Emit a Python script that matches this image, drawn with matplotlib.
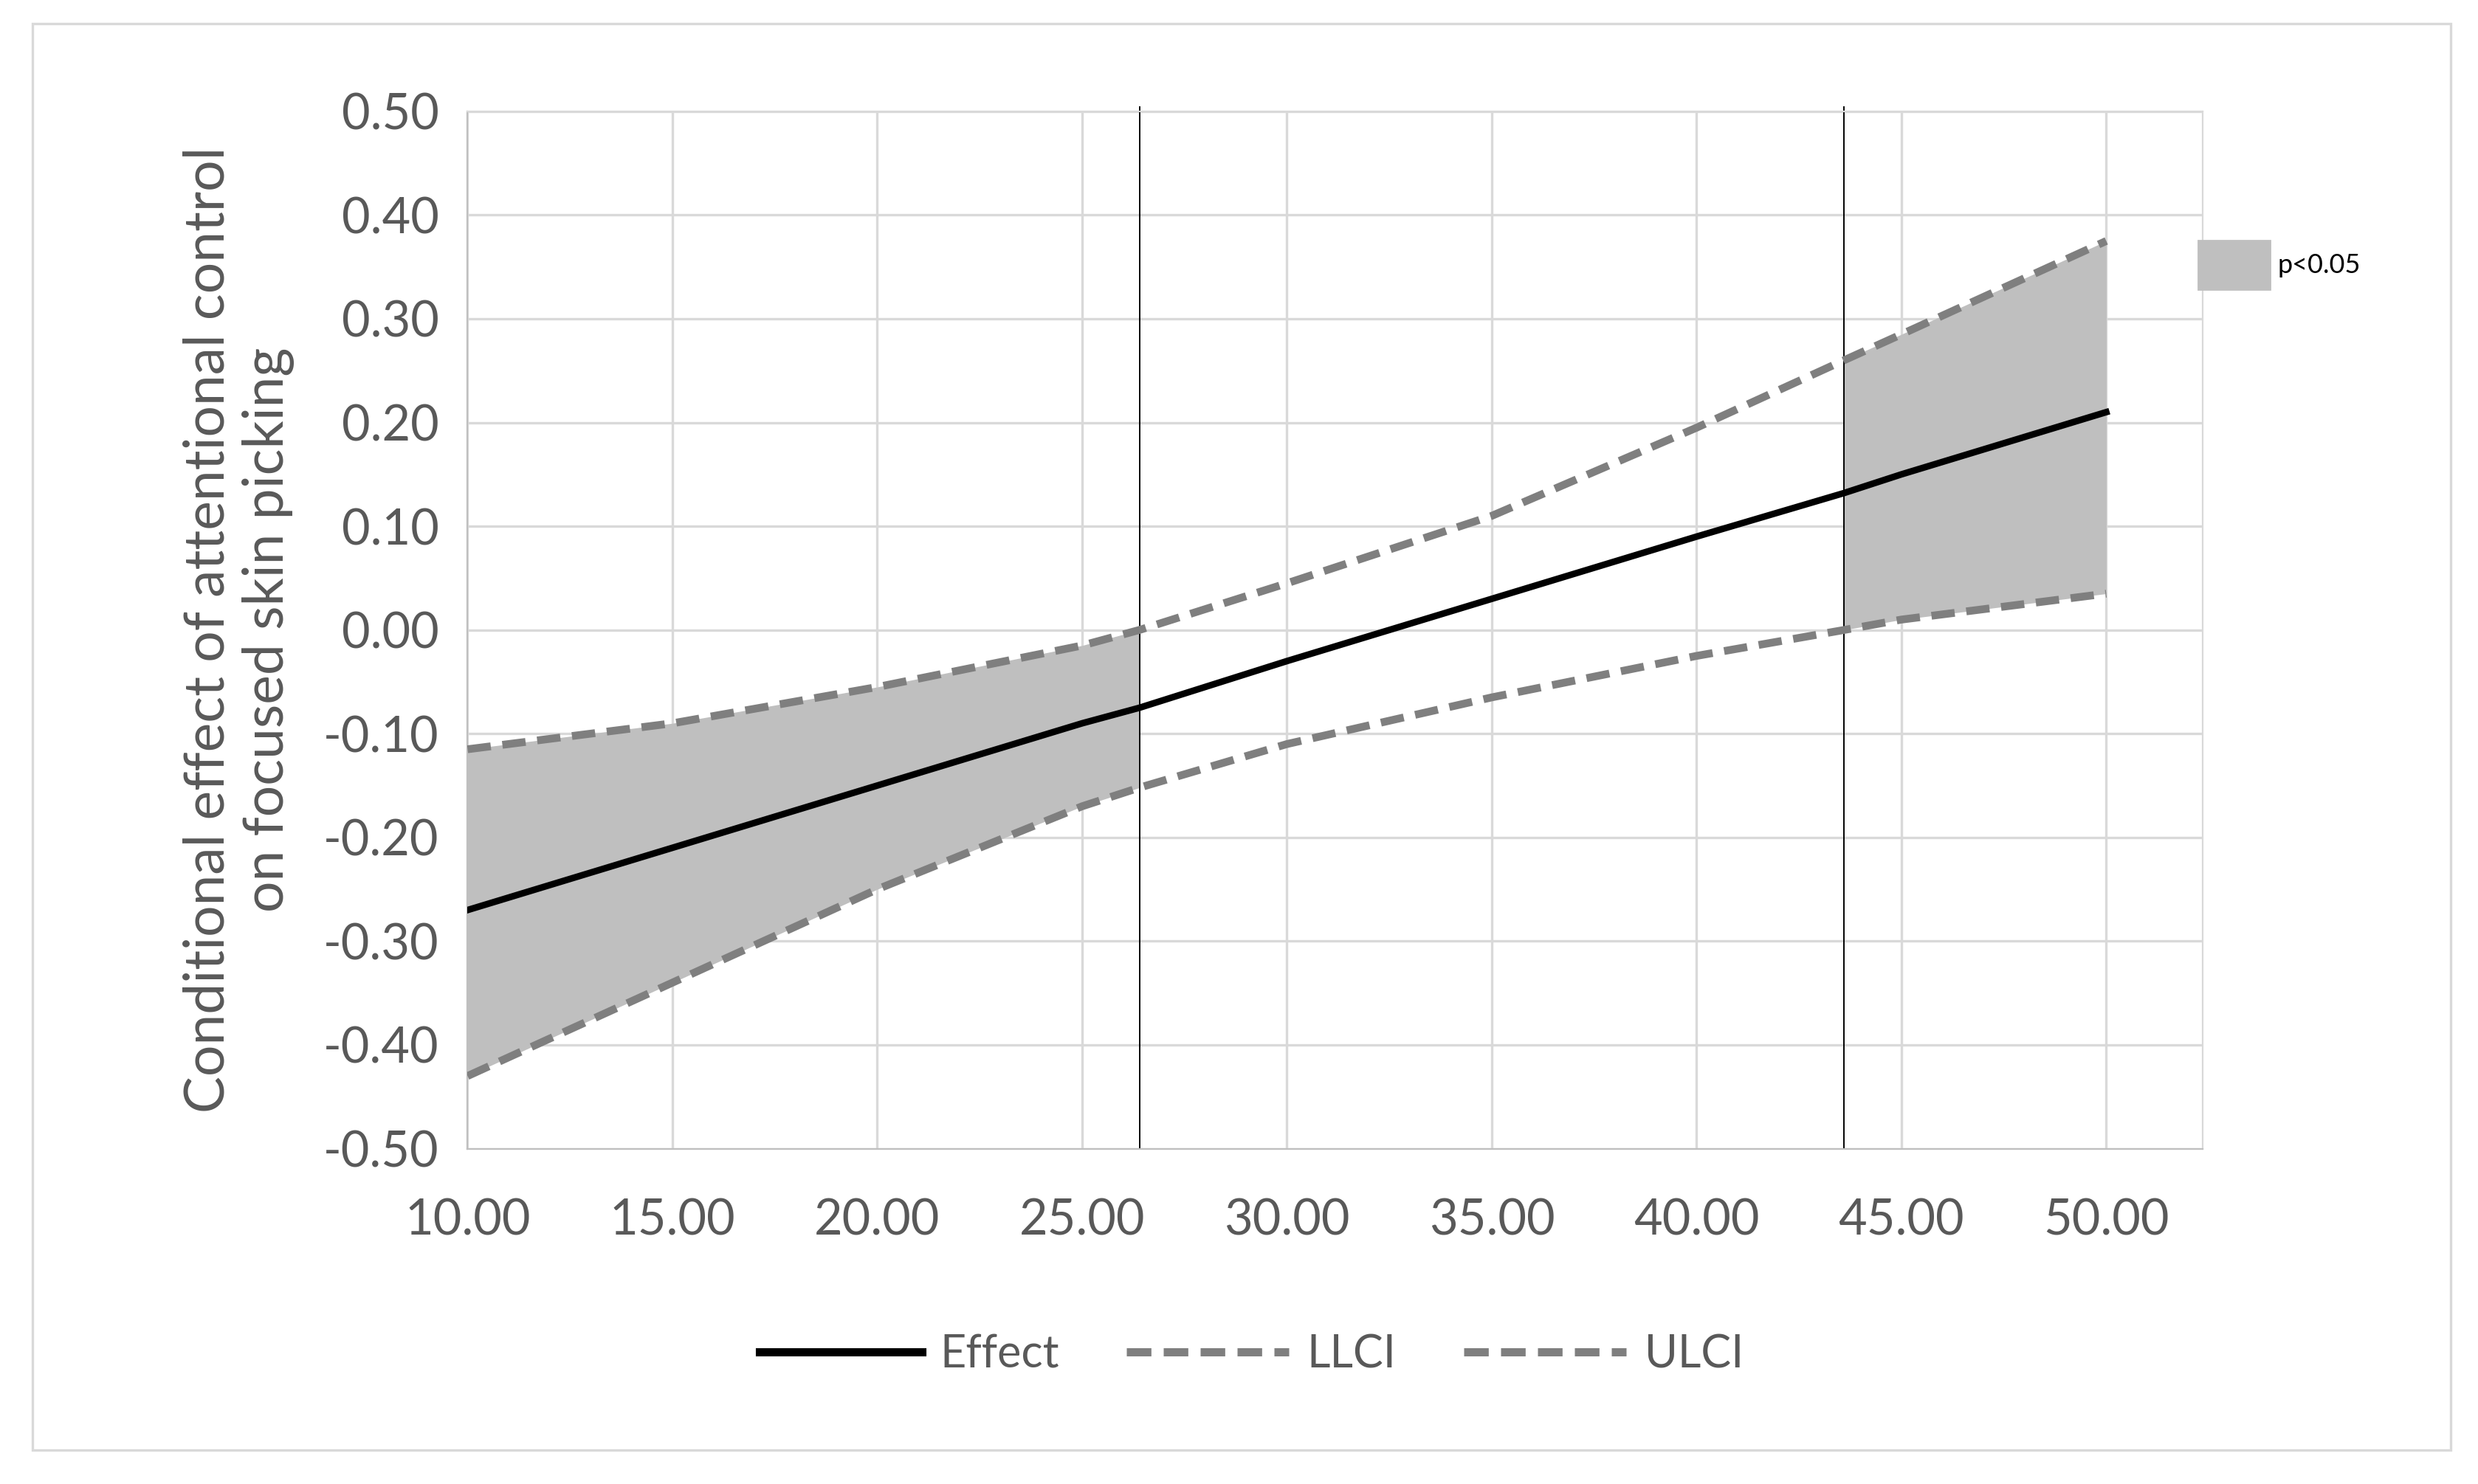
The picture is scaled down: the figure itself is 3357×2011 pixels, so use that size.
import numpy as np
import matplotlib.pyplot as plt
from matplotlib.patches import Rectangle

plt.rcParams['font.family'] = ['Lato', 'DejaVu Sans']

# Moderator values and conditional effects
x = [10, 15, 20, 25, 26.4, 30, 35, 40, 43.6, 45, 50]
effect = [-0.27, -0.21, -0.15, -0.09, -0.075, -0.03, 0.03, 0.09, 0.132, 0.15, 0.21]
llci = [-0.43, -0.34, -0.25, -0.17, -0.152, -0.11, -0.065, -0.025, 0.0, 0.01, 0.035]
ulci = [-0.115, -0.09, -0.055, -0.015, 0.0, 0.045, 0.11, 0.195, 0.26, 0.285, 0.375]
jn_points = [26.4, 43.6]

x = np.array(x)
fig = plt.figure(figsize=(16.785, 10.055), dpi=200)
ax = fig.add_axes([0.1887, 0.226, 0.889 - 0.1887, 0.925 - 0.226])

lo = np.array(llci); hi = np.array(ulci)
m1 = x <= jn_points[0]
m2 = x >= jn_points[1]
ax.fill_between(x[m1], lo[m1], hi[m1], color='#bfbfbf', lw=0, zorder=1)
ax.fill_between(x[m2], lo[m2], hi[m2], color='#bfbfbf', lw=0, zorder=1)

ax.plot(x, effect, color='black', lw=3.2, label='Effect', zorder=3)
ax.plot(x, llci, color='#7f7f7f', lw=3.8, ls=(0, (3, 1.5)), label='LLCI', zorder=3)
ax.plot(x, ulci, color='#7f7f7f', lw=3.8, ls=(0, (3, 1.5)), label='ULCI', zorder=3)
for v in jn_points:
    ax.axvline(v, color='black', lw=0.7, ymin=0, ymax=1.004, clip_on=False, zorder=2)

xt = np.arange(10, 51, 5)
yt = np.round(np.arange(-0.5, 0.51, 0.1), 2) + 0.0
ax.set_xlim(10, 52.36)
ax.set_ylim(-0.5, 0.5)
ax.set_xticks(xt)
ax.set_yticks(yt)
ax.set_xticklabels([f'{v:.2f}' for v in xt])
ax.set_yticklabels([f'{v:.2f}'.replace('-0.00', '0.00') for v in yt])
ax.grid(True, color='#d9d9d9', lw=1.2)
ax.set_axisbelow(True)
for s in ['top', 'right']:
    ax.spines[s].set_color('#d9d9d9')
for s in ['left', 'bottom']:
    ax.spines[s].set_color('#bfbfbf')
ax.tick_params(length=0, labelsize=24, colors='#595959')
ax.tick_params(axis='x', pad=24)
ax.tick_params(axis='y', pad=14)
ax.set_ylabel('Conditional effect of attentional control\non focused skin picking',
              fontsize=27, color='#595959', labelpad=14)

leg = fig.legend(loc='center', bbox_to_anchor=(0.505, 0.087), ncol=3, frameon=False,
                 fontsize=22, labelcolor='#595959', handlelength=3.6, columnspacing=1.5,
                 handletextpad=0.4)
for h in leg.get_lines():
    h.set_linewidth(4)

fig.patches.append(Rectangle((0.887, 0.805), 0.029, 0.033, transform=fig.transFigure,
                             color='#bfbfbf'))
fig.text(0.919, 0.821, 'p<0.05', fontsize=13, va='center', color='black')

fig.patches.append(Rectangle((0.013, 0.023), 0.976, 0.961, transform=fig.transFigure,
                             fill=False, ec='#d9d9d9', lw=1.2))

fig.savefig('out.png', dpi=200, facecolor='white')
